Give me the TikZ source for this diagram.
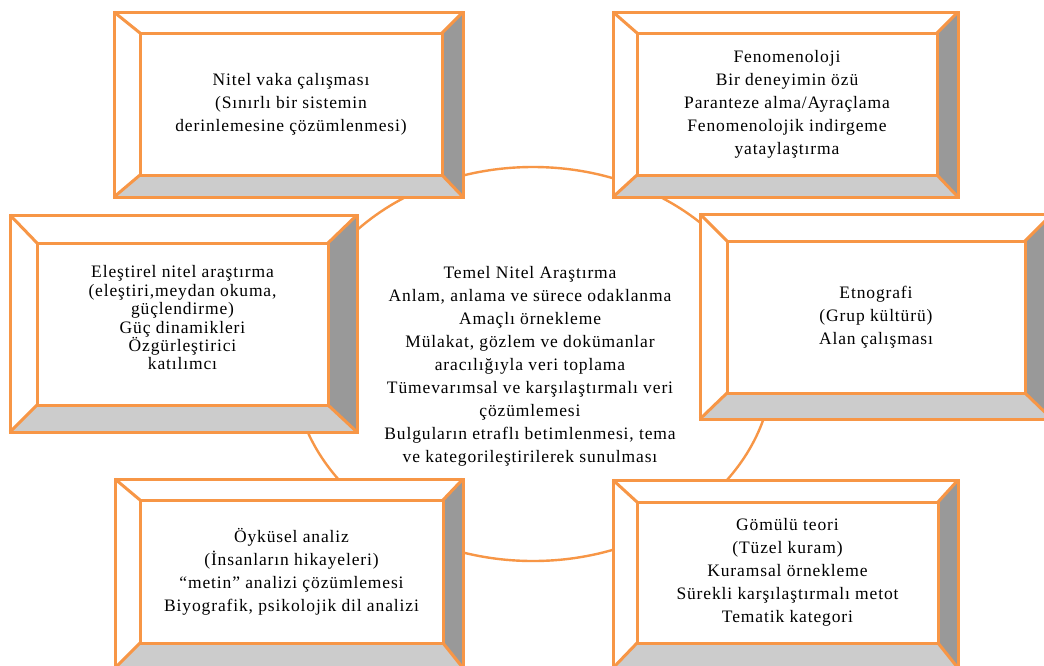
\documentclass[tikz,border=0pt]{standalone}
\usepackage{fontspec}
\setmainfont{Liberation Serif}
\usetikzlibrary{calc,shapes.geometric}
\definecolor{bevorange}{RGB}{247,150,70}
\definecolor{bevlight}{RGB}{204,204,204}
\definecolor{bevdark}{RGB}{153,153,153}
\tikzset{
  boxline/.style={draw=bevorange,line width=3pt,line join=miter},
  ringline/.style={draw=bevorange,line width=2.4pt},
  txt/.style={align=center,inner sep=0pt,font=\fontsize{17.5}{23}\selectfont\addfontfeatures{LetterSpace=5}},
  txttight/.style={align=center,inner sep=0pt,font=\fontsize{17.5}{18.4}\selectfont\addfontfeatures{LetterSpace=5}}
}
% #1 name, #2-#5 outer x1 y1 x2 y2, #6-#9 inner x1 y1 x2 y2 (pixels, y downward)
\newcommand\bevbox[9]{%
  \coordinate (#1-a) at (#2,#3);
  \coordinate (#1-b) at (#4,#3);
  \coordinate (#1-c) at (#4,#5);
  \coordinate (#1-d) at (#2,#5);
  \coordinate (#1-e) at (#6,#7);
  \coordinate (#1-f) at (#8,#7);
  \coordinate (#1-g) at (#8,#9);
  \coordinate (#1-h) at (#6,#9);
  \fill[white] (#1-a) rectangle (#1-c);
  \fill[bevlight] (#1-d) -- (#1-c) -- (#1-g) -- (#1-h) -- cycle;
  \fill[bevdark] (#1-b) -- (#1-c) -- (#1-g) -- (#1-f) -- cycle;
  \draw[boxline] (#1-a) rectangle (#1-c);
  \draw[boxline] (#1-e) rectangle (#1-g);
  \draw[boxline] (#1-a) -- (#1-e) (#1-b) -- (#1-f) (#1-c) -- (#1-g) (#1-d) -- (#1-h);
  \coordinate (#1) at ($(#1-e)!0.5!(#1-g)$);
}
\begin{document}
\begin{tikzpicture}[x=1pt,y=-1pt]
\useasboundingbox (0,0) rectangle (1044,665);
\clip (0,0) rectangle (1044,665);
\fill[white] (0,0) rectangle (1044,665);
% central ring
\node[ringline,ellipse,minimum width=480pt,minimum height=394pt,inner sep=0pt] (ring) at (533,364) {};
\node[txt] (center) at (530,366) {Temel Nitel Araştırma\\Anlam, anlama ve sürece odaklanma\\Amaçlı örnekleme\\Mülakat, gözlem ve dokümanlar\\aracılığıyla veri toplama\\Tümevarımsal ve karşılaştırmalı veri\\çözümlemesi\\Bulguların etraflı betimlenmesi, tema\\ve kategorileştirilerek sunulması};
% boxes
\bevbox{b1}{114}{12}{463}{197}{140}{33}{442}{175}
\node[txt] (t1) at (b1) {Nitel vaka çalışması\\(Sınırlı bir sistemin\\derinlemesine çözümlenmesi)};
\bevbox{b2}{613}{12}{958}{197}{637}{33}{937}{175}
\node[txt] (t2) at (b2) {Fenomenoloji\\Bir deneyimin özü\\Paranteze alma/Ayraçlama\\Fenomenolojik indirgeme\\yataylaştırma};
\bevbox{b3}{10}{215}{357}{432}{37}{243}{328}{405}
\node[txttight] (t3) at ($(b3)+(0,-6)$) {Eleştirel nitel araştırma\\(eleştiri,meydan okuma,\\güçlendirme)\\Güç dinamikleri\\Özgürleştirici\\katılımcı};
\bevbox{b4}{700}{214}{1052}{419}{727}{241}{1025}{393}
\node[txt] (t4) at (b4) {Etnografi\\(Grup kültürü)\\Alan çalışması};
\bevbox{b5}{115}{479}{463}{668}{140}{500}{443}{643}
\node[txt] (t5) at (b5) {Öyküsel analiz\\(İnsanların hikayeleri)\\“metin” analizi çözümlemesi\\Biyografik, psikolojik dil analizi};
\bevbox{b6}{613}{480}{958}{668}{637}{502}{938}{643}
\node[txt] (t6) at (b6) {Gömülü teori\\(Tüzel kuram)\\Kuramsal örnekleme\\Sürekli karşılaştırmalı metot\\Tematik kategori};
\end{tikzpicture}
\end{document}
